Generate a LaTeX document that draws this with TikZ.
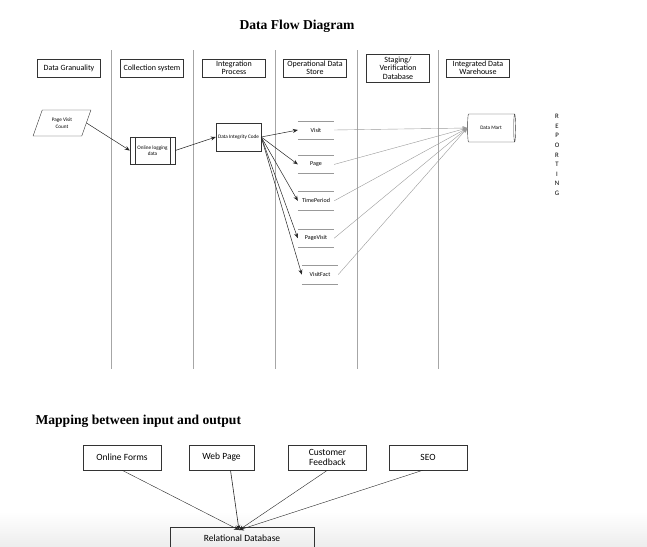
\documentclass[tikz,border=0pt]{standalone}
\usepackage{fontspec}
\setmainfont{Carlito}
\newfontfamily\titlefont{Liberation Serif}
\usetikzlibrary{shapes.geometric, arrows.meta, positioning}

\begin{document}
\begin{tikzpicture}[x=1pt, y=-1pt,
            header/.style={draw, rectangle, minimum width=63pt, minimum height=18pt, text centered, align=center, draw=black!80, inner sep=1pt, font=\fontsize{8}{8.5}\selectfont},
            flowbox/.style={draw, rectangle, minimum width=45pt, minimum height=27pt, text centered, align=center, draw=black!80, inner sep=1pt, font=\fontsize{5.2}{6.5}\selectfont},
            store/.style={rectangle, minimum width=36pt, minimum height=18pt, text centered, inner sep=0pt, font=\fontsize{6}{7}\selectfont},
            inbox/.style={draw, rectangle, minimum width=78pt, minimum height=25pt, text centered, align=center, draw=black!80, inner sep=1pt, font=\fontsize{9.5}{10}\selectfont},
            heading/.style={font=\titlefont\bfseries\fontsize{13.6}{15}\selectfont},
            lane/.style={gray!70, line width=0.8pt},
            arrow/.style={-{Stealth[length=5pt, width=4pt]}, line width=0.5pt, black!85},
            feed/.style={-{Stealth[length=5pt, width=4pt]}, line width=0.4pt, gray!80}]

            \useasboundingbox (0,0) rectangle (647,546);
            \shade[top color=white, bottom color=gray!14] (0,512) rectangle (647,546);

            % Title
            \node (title) [heading] at (297,26) {Data Flow Diagram};

            % Lanes
            \foreach \x in {111,193,275,357,438}
                \draw [lane] (\x,50) -- (\x,369);

            % Headers
            \node (granularity) [header] at (69,68) {Data Granuality};
            \node (collect) [header] at (152,68) {Collection system};
            \node (integrate) [header] at (234,68) {Integration\\Process};
            \node (ods) [header] at (315,68) {Operational Data\\Store};
            \node (staging) [header, minimum height=28pt] at (398,68) {Staging/\\Verification\\Database};
            \node (warehouse) [header] at (478,68) {Integrated Data\\Warehouse};

            % Flow
            \node (pvc) [trapezium, trapezium left angle=65, trapezium right angle=115, trapezium stretches=true, minimum width=58pt, minimum height=26pt, draw=black!80, inner sep=0pt, align=center, font=\fontsize{5.2}{6.5}\selectfont] at (62,123) {Page Visit\\Count};
            \node (logging) [flowbox] at (152.5,150.5) {Online logging\\data};
            \draw [black!80] ([xshift=5.5pt]logging.north west) -- ([xshift=5.5pt]logging.south west)
                             ([xshift=-5.5pt]logging.north east) -- ([xshift=-5.5pt]logging.south east);
            \node (dic) [flowbox, minimum height=28pt] at (238.5,137) {Data Integrity Code};

            % Data stores
            \node (db_visit) [store] at (316,130) {Visit};
            \node (db_page) [store, below=16pt of db_visit] {Page};
            \node (db_time) [store, below=18pt of db_page] {TimePeriod};
            \node (db_pagevisit) [store, below=19pt of db_time] {PageVisit};
            \node (db_fact) [store, below=18pt of db_pagevisit, xshift=4pt] {VisitFact};
            \foreach \n in {db_visit,db_page,db_time,db_pagevisit,db_fact}
                \draw [gray!80, line width=0.6pt] (\n.north west) -- (\n.north east)
                                                  (\n.south west) -- (\n.south east);

            \node (mart) [cylinder, draw=black!80, minimum width=28pt, minimum height=48pt, shape aspect=0.55, inner sep=0pt, font=\fontsize{5.2}{6.5}\selectfont] at (491,128) {Data Mart};
            \node (reporting) [align=center, font=\fontsize{6.8}{9.6}\selectfont] at (557,155) {R\\E\\P\\O\\R\\T\\I\\N\\G};

            % Connections
            \draw [arrow] (pvc.east) -- (logging.west);
            \draw [arrow] (logging.east) -- (dic.west);
            \foreach \n in {db_visit,db_page,db_time,db_pagevisit,db_fact}
                \draw [arrow] (dic.east) -- (\n.west);
            \foreach \n in {db_visit,db_page,db_time,db_pagevisit,db_fact}
                \draw [feed] (\n.east) -- (mart.west);

            % Mapping
            \node (mapping) [heading, anchor=west] at (32,421) {Mapping between input and output};
            \node (forms) [inbox] at (122,457.5) {Online Forms};
            \node (webpage) [inbox, minimum width=65pt] at (221.5,457.5) {Web Page};
            \node (feedback) [inbox] at (327.5,457.5) {Customer\\Feedback};
            \node (seo) [inbox] at (428,457.5) {SEO};
            \node (rdb) [inbox, minimum width=144pt, minimum height=22pt, anchor=north] at (242,527) {Relational Database};
            \path (rdb.north) ++(-3pt,-3pt) coordinate (rdbtop);

            \draw [arrow, line width=0.4pt] (forms.south) -- (rdbtop);
            \draw [arrow, line width=0.6pt] ([xshift=9pt]webpage.south) -- (rdbtop);
            \draw [arrow, line width=0.4pt] (feedback.south) -- (rdbtop);
            \draw [arrow, line width=0.4pt] ([xshift=-5pt]seo.south) -- (rdbtop);
        \end{tikzpicture}
\end{document}
